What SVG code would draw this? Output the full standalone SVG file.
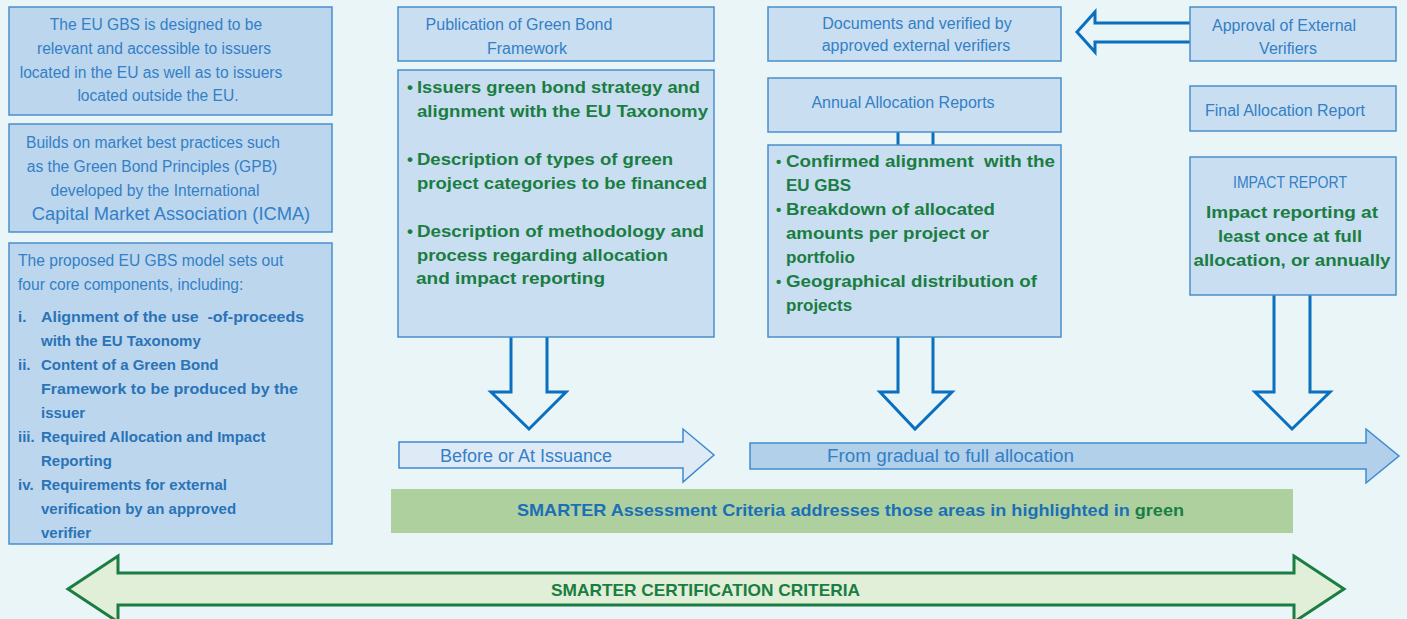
<svg xmlns="http://www.w3.org/2000/svg" width="1407" height="619" viewBox="0 0 1407 619">
  <style>
    .bg { fill: #eaf5f8; }
    .boxL { fill: #bcd6ee; stroke: #4a8ecb; stroke-width: 1.5; }
    .box { fill: #c9def1; stroke: #4a8ecb; stroke-width: 1.5; }
    .t { font-family: "Liberation Sans", Arial, sans-serif; font-size: 16px; fill: #3380c6; }
    .tl { font-size: 15.6px; }
    .c { text-anchor: middle; }
    .b { font-family: "Liberation Sans", Arial, sans-serif; font-size: 15px; font-weight: bold; fill: #2a73b7; }
    .g { font-family: "Liberation Sans", Arial, sans-serif; font-size: 17px; font-weight: bold; fill: #1a7d42; }
    .flow { fill: none; stroke: #0b6fc0; stroke-width: 3; stroke-linejoin: miter; }
    .time1 { fill: #dfeaf7; stroke: #3d8ad0; stroke-width: 1.5; }
    .time2 { fill: #b2d0ea; stroke: #3d8ad0; stroke-width: 1.5; }
    .cert { fill: #e1efd8; stroke: #1a7d42; stroke-width: 3; }
  </style>

  <rect class="bg" x="0" y="0" width="1407" height="619"/>

  <!-- connectors and flow arrows -->
  <g id="connectors">
    <!-- downward hollow arrows below the framework, allocation and impact boxes -->
    <polyline class="flow" points="511,337 511,392 491,392 529,429 566,392 547,392 547,337"/>
    <polyline class="flow" points="898,337 898,392 880,392 915,429 952,392 933,392 933,337"/>
    <polyline class="flow" points="1274,295 1274,392 1255,392 1292,429 1330,392 1310,392 1310,295"/>
    <!-- short links between annual reports and its bullet list -->
    <line class="flow" x1="898" y1="132" x2="898" y2="145"/>
    <line class="flow" x1="933" y1="132" x2="933" y2="145"/>
    <!-- approval of verifiers feeding into verification box -->
    <polyline class="flow" points="1190,23 1095,23 1095,12 1077,32 1095,52 1095,42 1190,42"/>
  </g>

  <!-- timeline arrows -->
  <g id="timeline-issuance">
    <polygon class="time1" points="399,442 683,442 683,429 714,455 683,482 683,468 399,468"/>
    <text class="t" x="440" y="462" style="font-size:17.5px" textLength="172" lengthAdjust="spacingAndGlyphs">Before or At Issuance</text>
  </g>
  <g id="timeline-allocation">
    <polygon class="time2" points="750,443 1366,443 1366,429 1399,456 1366,483 1366,469 750,469"/>
    <text class="t" x="827" y="462" style="font-size:18px" textLength="247" lengthAdjust="spacingAndGlyphs">From gradual to full allocation</text>
  </g>

  <!-- left column: EU GBS background -->
  <g id="gbs-scope">
    <rect class="boxL" x="9" y="7" width="323" height="108"/>
    <text class="t tl c" x="156" y="30">The EU GBS is designed to be</text>
    <text class="t tl c" x="154" y="54">relevant and accessible to issuers</text>
    <text class="t tl c" x="151" y="78">located in the EU as well as to issuers</text>
    <text class="t tl c" x="158" y="101">located outside the EU.</text>
  </g>
  <g id="gbs-practices">
    <rect class="boxL" x="9" y="124" width="323" height="108"/>
    <text class="t tl c" x="153" y="148">Builds on market best practices such</text>
    <text class="t tl c" x="152" y="172">as the Green Bond Principles (GPB)</text>
    <text class="t tl c" x="155" y="196">developed by the International</text>
    <text class="t c" x="171" y="220" style="font-size:18.3px">Capital Market Association (ICMA)</text>
  </g>
  <g id="gbs-components">
    <rect class="boxL" x="9" y="243" width="323" height="301"/>
    <text class="t tl" x="18" y="266">The proposed EU GBS model sets out</text>
    <text class="t tl" x="18" y="290">four core components, including:</text>
    <text class="b" x="18" y="322">i.</text>
    <text class="b" x="41" y="322" textLength="263" lengthAdjust="spacingAndGlyphs">Alignment of the use &#160;-of-proceeds</text>
    <text class="b" x="41" y="346">with the EU Taxonomy</text>
    <text class="b" x="18" y="370">ii.</text>
    <text class="b" x="41" y="370">Content of a Green Bond</text>
    <text class="b" x="41" y="394" textLength="257" lengthAdjust="spacingAndGlyphs">Framework to be produced by the</text>
    <text class="b" x="41" y="418">issuer</text>
    <text class="b" x="18" y="442">iii.</text>
    <text class="b" x="41" y="442">Required Allocation and Impact</text>
    <text class="b" x="41" y="466">Reporting</text>
    <text class="b" x="18" y="490">iv.</text>
    <text class="b" x="41" y="490">Requirements for external</text>
    <text class="b" x="41" y="514">verification by an approved</text>
    <text class="b" x="41" y="538">verifier</text>
  </g>

  <!-- middle column: issuance stage -->
  <g id="publication">
    <rect class="box" x="398" y="7" width="316" height="54"/>
    <text class="t c" x="519" y="30">Publication of Green Bond</text>
    <text class="t c" x="527" y="54">Framework</text>
  </g>
  <g id="framework-content">
    <rect class="box" x="398" y="70" width="316" height="267"/>
    <text class="g" x="407" y="93">•</text>
    <text class="g" x="417" y="93" textLength="283" lengthAdjust="spacingAndGlyphs">Issuers green bond strategy and</text>
    <text class="g" x="417" y="117" textLength="291" lengthAdjust="spacingAndGlyphs">alignment with the EU Taxonomy</text>
    <text class="g" x="407" y="165">•</text>
    <text class="g" x="417" y="165" textLength="256" lengthAdjust="spacingAndGlyphs">Description of types of green</text>
    <text class="g" x="417" y="189" textLength="290" lengthAdjust="spacingAndGlyphs">project categories to be financed</text>
    <text class="g" x="407" y="237">•</text>
    <text class="g" x="417" y="237" textLength="287" lengthAdjust="spacingAndGlyphs">Description of methodology and</text>
    <text class="g" x="417" y="261" textLength="251" lengthAdjust="spacingAndGlyphs">process regarding allocation</text>
    <text class="g" x="416" y="284" textLength="189" lengthAdjust="spacingAndGlyphs">and impact reporting</text>
  </g>

  <!-- third column: allocation stage -->
  <g id="verification">
    <rect class="box" x="768" y="7" width="293" height="54"/>
    <text class="t c" x="917" y="29">Documents and verified by</text>
    <text class="t c" x="916" y="51">approved external verifiers</text>
  </g>
  <g id="annual-reports">
    <rect class="box" x="768" y="78" width="293" height="54"/>
    <text class="t c" x="903" y="108">Annual Allocation Reports</text>
  </g>
  <g id="annual-content">
    <rect class="box" x="768" y="145" width="293" height="192"/>
    <text class="g" x="776" y="167" style="font-size:15px">•</text>
    <text class="g" x="786" y="167" textLength="269" lengthAdjust="spacingAndGlyphs">Confirmed alignment &#160;with the</text>
    <text class="g" x="786" y="191">EU GBS</text>
    <text class="g" x="776" y="215" style="font-size:15px">•</text>
    <text class="g" x="786" y="215" textLength="209" lengthAdjust="spacingAndGlyphs">Breakdown of allocated</text>
    <text class="g" x="786" y="239" textLength="203" lengthAdjust="spacingAndGlyphs">amounts per project or</text>
    <text class="g" x="786" y="263">portfolio</text>
    <text class="g" x="776" y="287" style="font-size:15px">•</text>
    <text class="g" x="786" y="287" textLength="251" lengthAdjust="spacingAndGlyphs">Geographical distribution of</text>
    <text class="g" x="786" y="311">projects</text>
  </g>

  <!-- right column: verifiers and final reporting -->
  <g id="verifier-approval">
    <rect class="box" x="1190" y="7" width="206" height="54"/>
    <text class="t c" x="1284" y="31">Approval of External</text>
    <text class="t c" x="1288" y="54">Verifiers</text>
  </g>
  <g id="final-report">
    <rect class="box" x="1190" y="86" width="206" height="45"/>
    <text class="t c" x="1285" y="116">Final Allocation Report</text>
  </g>
  <g id="impact-report">
    <rect class="box" x="1190" y="157" width="206" height="138"/>
    <text class="t c" x="1290" y="188" textLength="114" lengthAdjust="spacingAndGlyphs">IMPACT REPORT</text>
    <text class="g c" x="1292" y="218" textLength="172" lengthAdjust="spacingAndGlyphs">Impact reporting at</text>
    <text class="g c" x="1290" y="242" textLength="144" lengthAdjust="spacingAndGlyphs">least once at full</text>
    <text class="g c" x="1292" y="266" textLength="197" lengthAdjust="spacingAndGlyphs">allocation, or annually</text>
  </g>

  <!-- assessment banner -->
  <g id="assessment">
    <rect x="391" y="489" width="902" height="44" fill="#aed09f"/>
    <text class="g" x="517" y="516" style="fill:#1b6fb6" textLength="667" lengthAdjust="spacingAndGlyphs">SMARTER Assessment Criteria addresses those areas in highlighted in <tspan fill="#1a7d42">green</tspan></text>
  </g>

  <!-- certification span arrow -->
  <g id="certification">
    <polygon class="cert" points="68,589 118,556 118,573 1294,573 1294,556 1344,589 1294,622 1294,605 118,605 118,622"/>
    <text class="g" x="551" y="596" textLength="309" lengthAdjust="spacingAndGlyphs">SMARTER CERTIFICATION CRITERIA</text>
  </g>
</svg>
